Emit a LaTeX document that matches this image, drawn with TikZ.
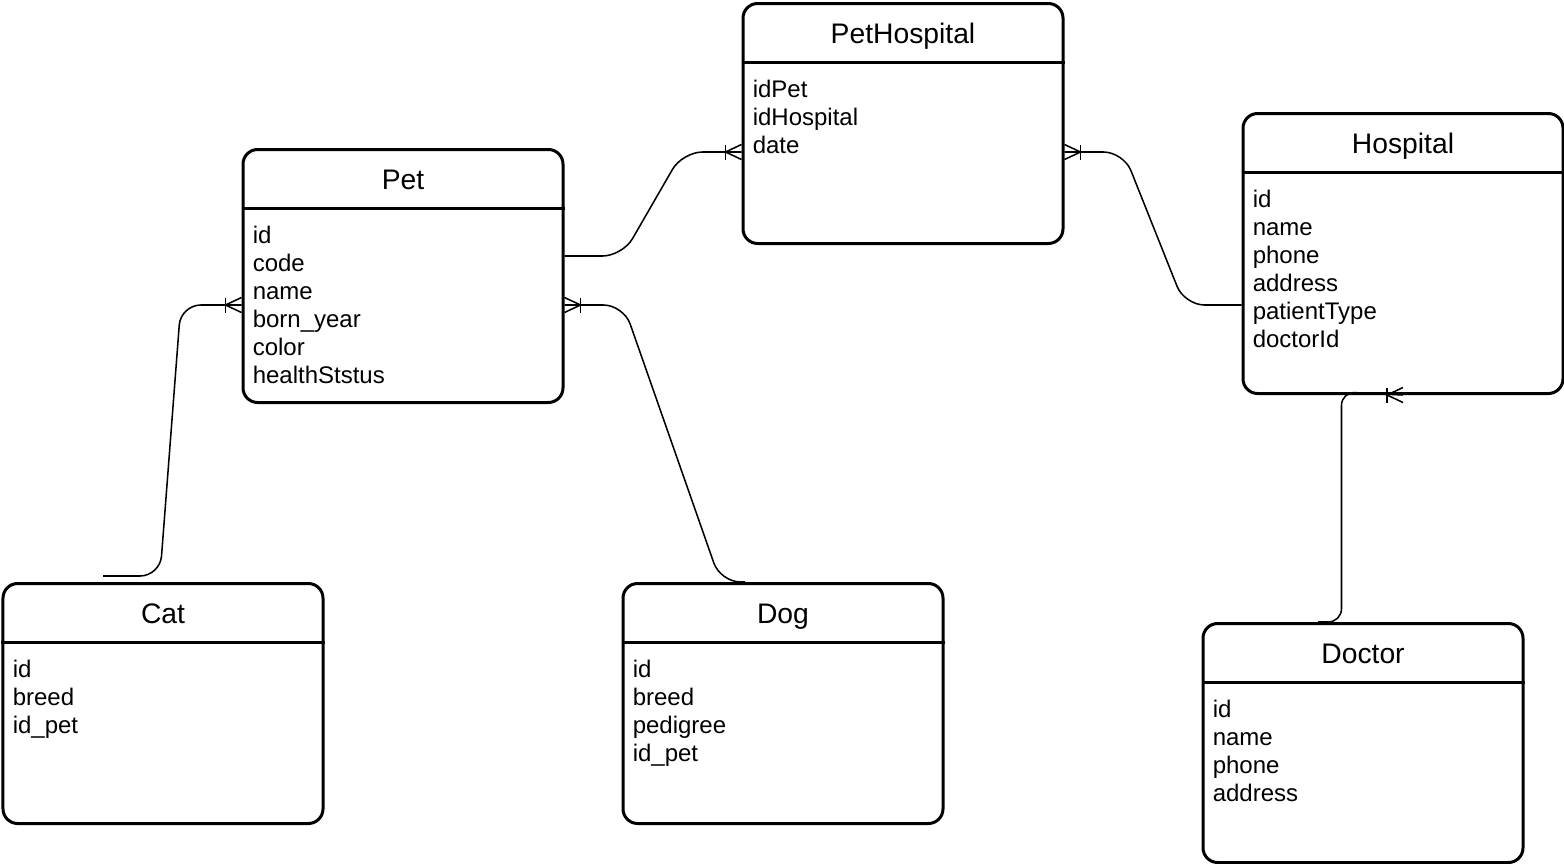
\documentclass[tikz,border=0pt]{standalone}
\usepackage{fontspec}
\setmainfont{Liberation Sans}
\usetikzlibrary{calc}
\tikzset{
  entbox/.style={draw, line width=2.25pt, rounded corners=11pt, minimum width=240pt, inner sep=0pt, anchor=north west},
  hline/.style={line width=2.25pt},
  enttitle/.style={font=\fontsize{21.2}{24}\selectfont, inner sep=0pt, anchor=base},
  entfield/.style={font=\fontsize{18}{21}\selectfont, inner sep=0pt, anchor=base west},
  rel/.style={line width=1.15pt, rounded corners=15pt},
  foot/.style={line width=1.15pt},
}
\newcommand{\entity}[6]{%
  \node[entbox, minimum height=#4*0.75pt] (#1) at (#2,#3) {};
  \draw[hline] ($(#1.north west)+(0,60)$) -- ($(#1.north east)+(0,60)$);
  \node[enttitle] (#1-title) at ($(#1.north)+(0,41.5)$) {#5};
  \foreach \f [count=\i] in {#6} {
    \node[entfield] (#1-f\i) at ($(#1.north west)+(11,{95+28*(\i-1)})$) {\f};
  }
}
\newcommand{\crowfoot}[2]{%
  \draw[foot] ($#1+({-16*(#2)},-7.5)$) -- ($#1+({-16*(#2)},7.5)$);
  \draw[foot] ($#1+(0,-7.5)$) -- ($#1+({-16*(#2)},0)$) -- ($#1+(0,7.5)$);
}
\begin{document}
\begin{tikzpicture}[x=0.75pt,y=-0.75pt]
\useasboundingbox (1.5,1) rectangle (1565.5,865);
\fill[white] (1.5,1) rectangle (1565.5,865);

\entity{pethosp}{743}{3}{240}{PetHospital}{idPet,idHospital,date}
\entity{pet}{243}{149}{253}{Pet}{id,code,name,born\_year,color,healthStstus}
\entity{hosp}{1243}{113}{280}{Hospital}{id,name,phone,address,patientType,doctorId}
\entity{cat}{3}{583}{240}{Cat}{id,breed,id\_pet}
\entity{dog}{623}{583}{240}{Dog}{id,breed,pedigree,id\_pet}
\entity{doctor}{1203}{623}{239}{Doctor}{id,name,phone,address}

\coordinate (ph-w) at ($(pethosp.north west)+(0,150)$);
\coordinate (ph-e) at ($(pethosp.north east)+(0,150)$);
\coordinate (pet-e1) at ($(pet.north east)+(0,108)$);
\coordinate (pet-e2) at ($(pet.north east)+(0,157)$);
\coordinate (pet-w) at ($(pet.north west)+(0,157)$);
\coordinate (hosp-w) at ($(hosp.north west)+(0,193)$);
\coordinate (cat-free) at ($(cat.north)+(-60,-6)$);
\coordinate (dog-top) at ($(dog.north)+(-38,0)$);
\coordinate (doc-top) at ($(doctor.north)+(-45,0)$);

\draw[rel] (pet-e1) -- (624,257) -- (684,153) -- (ph-w);
\draw[rel] (hosp-w) -- (1186,306) -- (1125,153) -- (ph-e);
\draw[rel] (cat-free) -- (161.5,577) -- (182.3,306) -- (pet-w);
\draw[rel] (dog-top) -- (722,583) -- (625,306) -- (pet-e2);
\draw[rel, rounded corners=10pt] (doc-top) -- (1343,623) -- (1343,393) -- (hosp.south);

\crowfoot{(ph-w)}{1}
\crowfoot{(ph-e)}{-1}
\crowfoot{(pet-w)}{1}
\crowfoot{(pet-e2)}{-1}
\crowfoot{(hosp.south)}{1}
\end{tikzpicture}
\end{document}
